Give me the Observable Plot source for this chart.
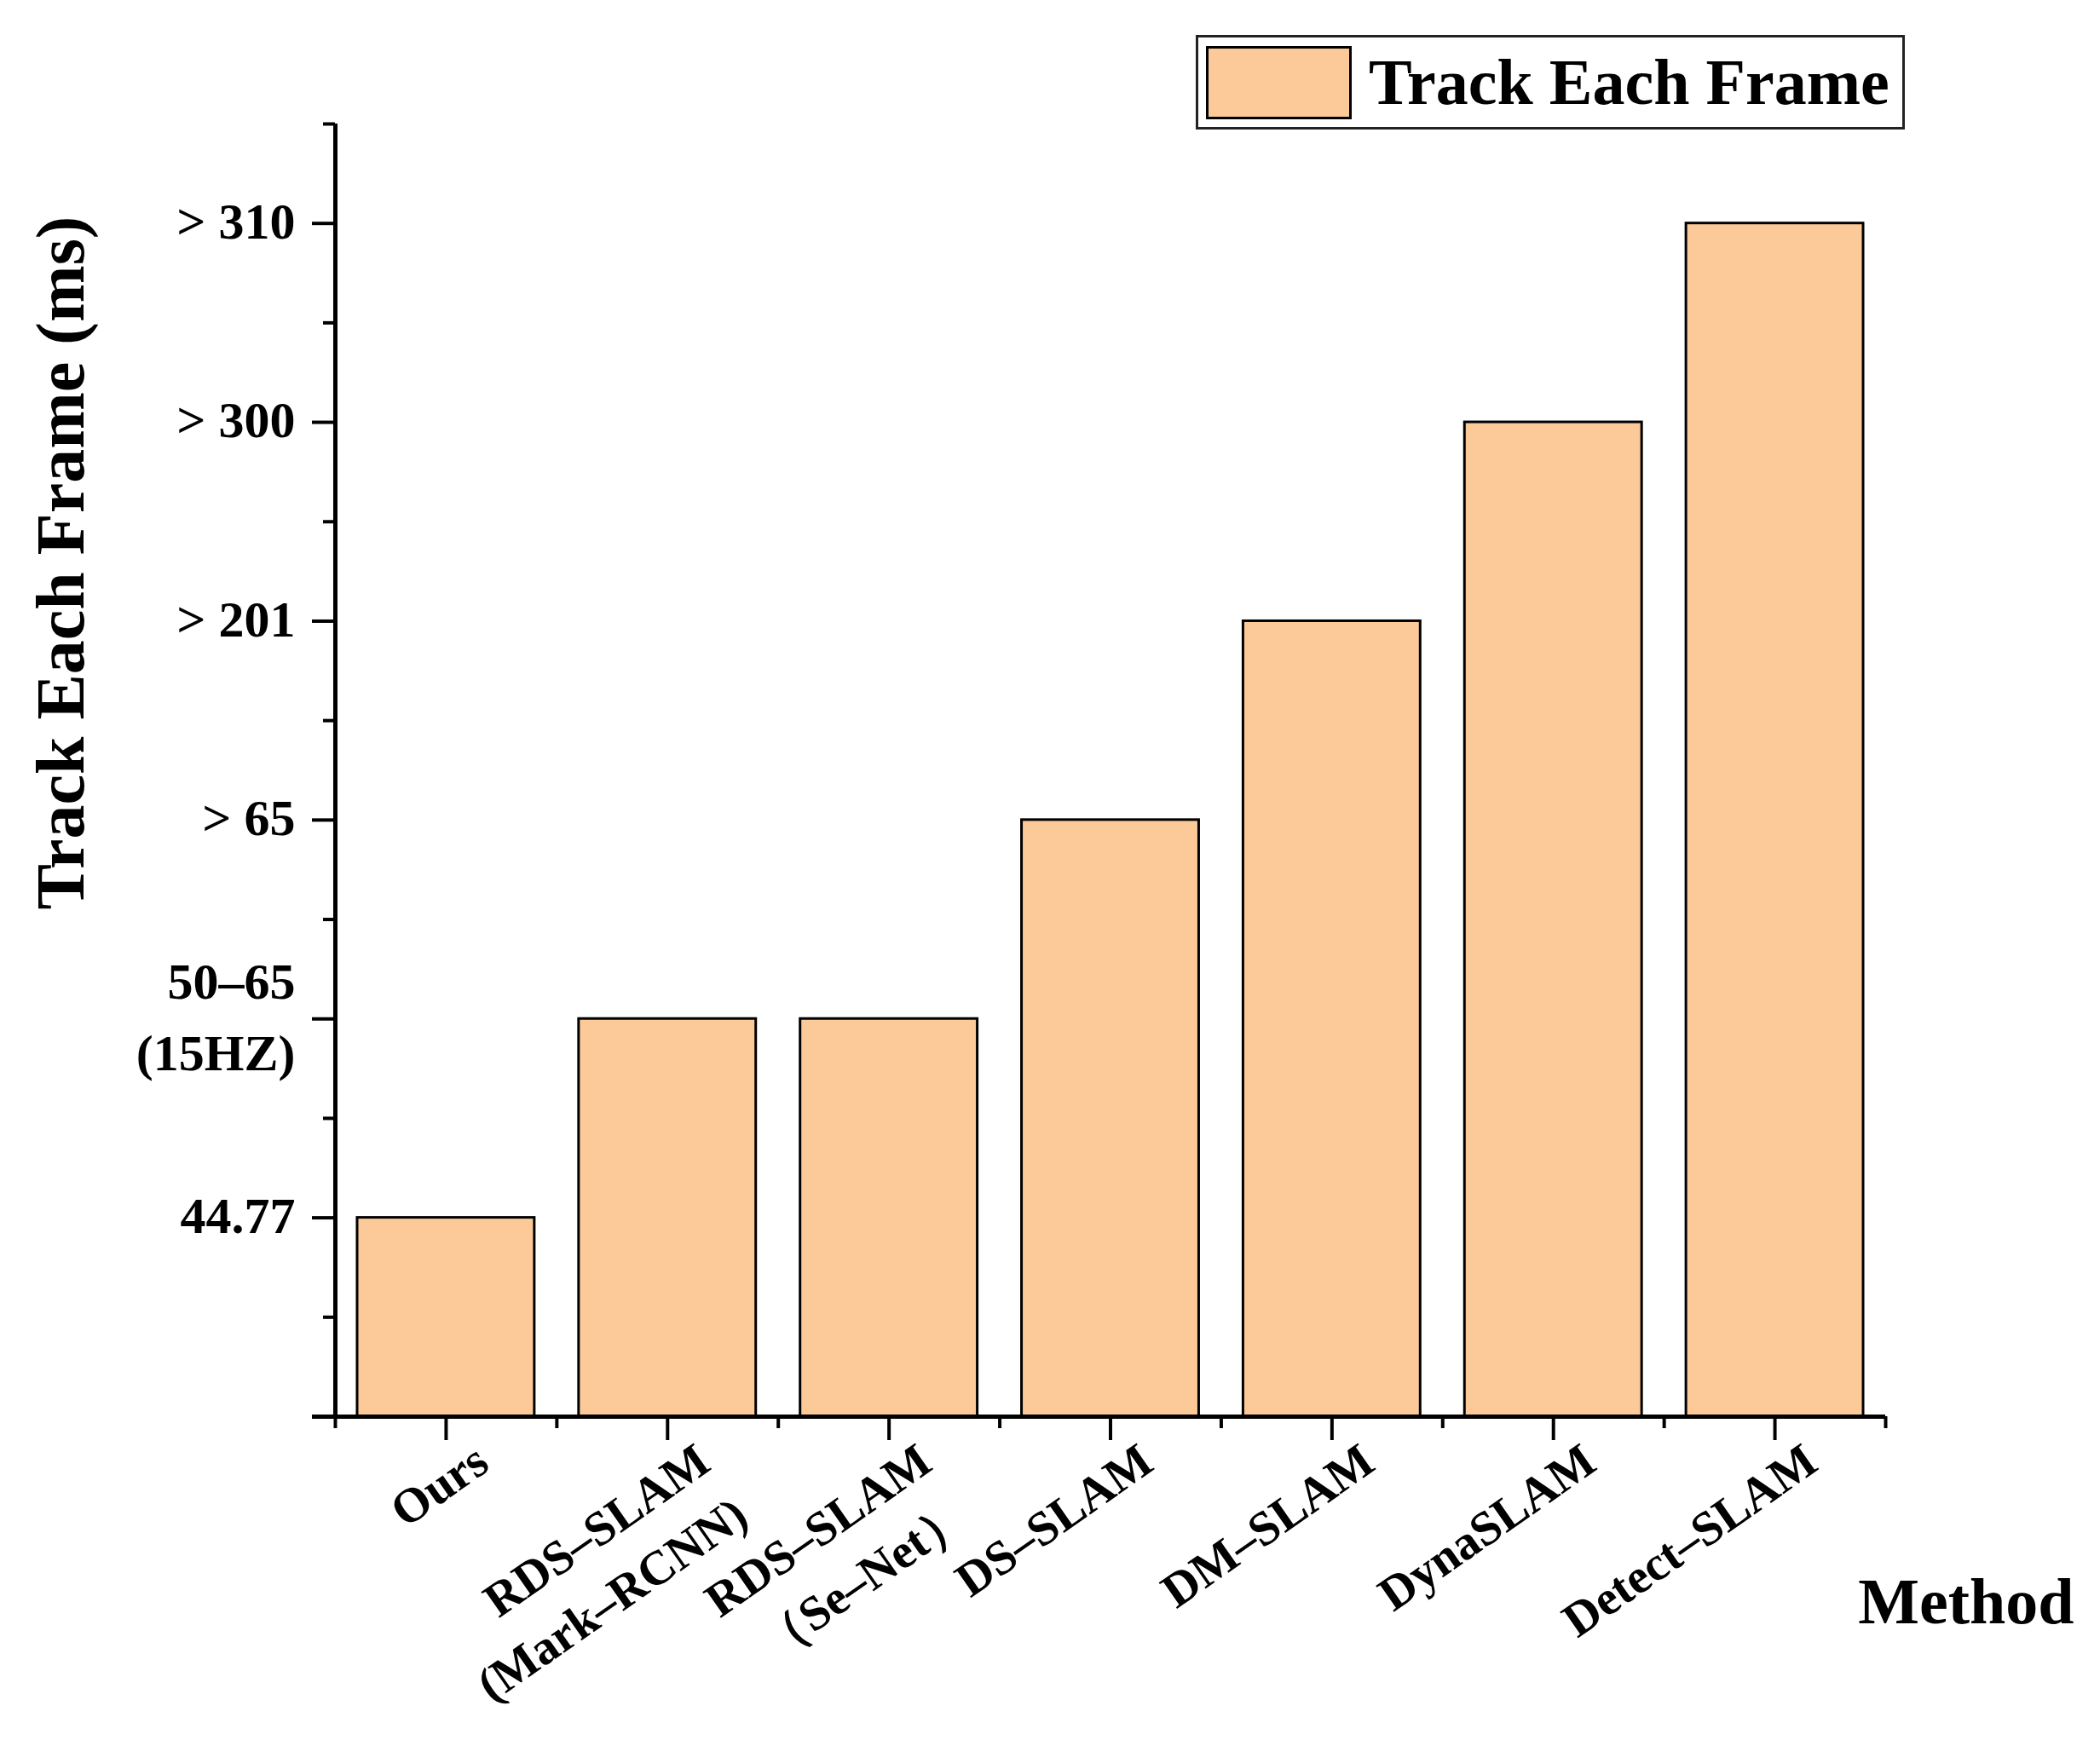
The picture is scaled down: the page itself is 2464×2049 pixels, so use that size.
<!DOCTYPE html>
<html>
<head>
<meta charset="utf-8">
<script src="https://cdn.jsdelivr.net/npm/d3@7"></script>
<script src="https://cdn.jsdelivr.net/npm/@observablehq/plot@0.6"></script>
<style>
  html, body { margin: 0; padding: 0; background: #ffffff; }
  #wrap { position: relative; width: 2464px; height: 2049px; }
  #legend {
    position: absolute; left: 1403px; top: 41px; width: 826px; height: 105px;
    border: 3px solid #222; background: #fff;
    display: flex; align-items: center; box-sizing: content-box;
    font-family: "Liberation Serif", "Times New Roman", serif; font-weight: bold;
    font-size: 76px; color: #000; white-space: nowrap;
  }
  #legend .sw {
    flex: none;
    width: 165px; height: 80px; margin-left: 9px; margin-right: 20px;
    background: #FCC998; border: 3px solid #000;
  }
</style>
</head>
<body>
<div id="wrap">
  <div id="chart"></div>
  <div id="legend"><div class="sw"></div><span>Track Each Frame</span></div>
</div>
<script>
// ---- data ----
const categories = ["Ours", "RDS–SLAM\n(Mark–RCNN)", "RDS–SLAM\n（Se–Net）", "DS–SLAM", "DM–SLAM", "DynaSLAM", "Detect–SLAM"];
const levels = [1, 2, 2, 3, 4, 5, 6];
const yTickValues = [1, 2, 3, 4, 5, 6];
const yTickLabels = ["44.77", "50–65\n(15HZ)", "> 65", "> 201", "> 300", "> 310"];
const yMinorTicks = [0.5, 1.5, 2.5, 3.5, 4.5, 5.5, 6.5];
const xTitle = "Method";
const yTitle = "Track Each Frame (ms)";
const seriesName = "Track Each Frame";

const data = categories.map((name, i) => ({i, name, level: levels[i]}));
const yTicks = yTickValues.map((v, i) => ({v, label: yTickLabels[i]}));
const xMajor = categories.map((_, i) => i);
const xMinor = d3.range(-0.5, categories.length, 1);

const fillColor = "#FCC998";
const font = "'Liberation Serif', 'Times New Roman', serif";

const chart = Plot.plot({
  width: 2464,
  height: 2049,
  marginLeft: 393,
  marginRight: 252,
  marginTop: 145,
  marginBottom: 387,
  style: {fontFamily: font, background: "white", color: "black"},
  x: {domain: [-0.5, categories.length - 0.5], axis: null},
  y: {domain: [0, 6.5], axis: null},
  marks: [
    Plot.rect(data, {
      x1: d => d.i - 0.4, x2: d => d.i + 0.4, y1: 0, y2: "level",
      fill: fillColor, stroke: "black", strokeWidth: 3
    }),
    Plot.ruleY([0], {insetLeft: -27, stroke: "black", strokeWidth: 5}),
    Plot.ruleX([-0.5], {stroke: "black", strokeWidth: 5}),
    Plot.axisX({ticks: xMajor, tickSize: 28, tickFormat: () => "", label: null, stroke: "black", strokeWidth: 4}),
    Plot.axisX({ticks: xMinor, tickSize: 14, tickFormat: () => "", label: null, stroke: "black", strokeWidth: 4}),
    Plot.axisY({ticks: yTickValues, tickSize: 27, tickFormat: () => "", label: null, stroke: "black", strokeWidth: 4}),
    Plot.axisY({ticks: yMinorTicks, tickSize: 14, tickFormat: () => "", label: null, stroke: "black", strokeWidth: 4}),
    Plot.text(data, {
      x: "i", frameAnchor: "bottom", text: "name",
      rotate: -35, textAnchor: "end", lineAnchor: "top", lineHeight: 1.35,
      dx: 22, dy: 16, fontSize: 57, fontWeight: "bold", fill: "black"
    }),
    Plot.text(yTicks, {
      y: "v", frameAnchor: "left", text: "label",
      textAnchor: "end", lineAnchor: "middle", lineHeight: 1.4,
      dx: -47, dy: -9, fontSize: 60, fontWeight: "bold", fill: "black"
    }),
    Plot.text([yTitle], {
      frameAnchor: "top-left", rotate: -90, textAnchor: "middle", lineAnchor: "middle",
      dx: 72 - 393, dy: 660 - 145, fontSize: 80, fontWeight: "bold", fill: "black"
    }),
    Plot.text([xTitle], {
      frameAnchor: "bottom-right", textAnchor: "end", lineAnchor: "middle",
      dx: 221, dy: 218, fontSize: 76, fontWeight: "bold", fill: "black"
    })
  ]
});
document.getElementById("chart").appendChild(chart);
document.querySelector("#legend span").textContent = seriesName;
</script>
</body>
</html>
